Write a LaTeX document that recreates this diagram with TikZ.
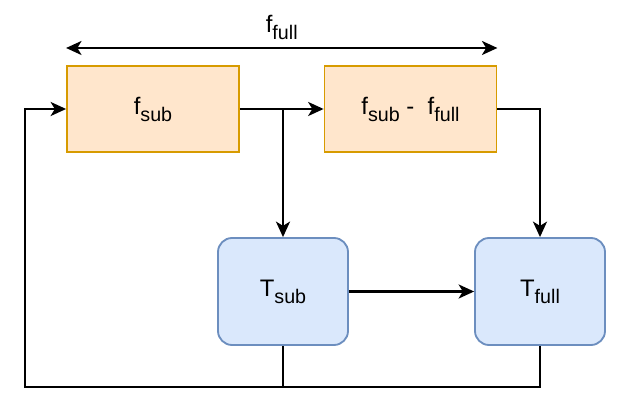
\documentclass[tikz,border=0pt]{standalone}
\usepackage{fontspec}
\setmainfont{Liberation Sans}
\usetikzlibrary{arrows.meta,positioning}

\definecolor{orfill}{HTML}{FFE6CC}
\definecolor{orline}{HTML}{D79B00}
\definecolor{blfill}{HTML}{DAE8FC}
\definecolor{blline}{HTML}{6C8EBF}

\newcommand{\sbs}[1]{\raisebox{-0.55ex}{\fontsize{14}{16}\selectfont #1}}

\begin{document}
\begin{tikzpicture}[
  >={Stealth[length=11pt,width=10pt,inset=3pt]},
  fblk/.style={draw=orline, fill=orfill, line width=1.3pt,
               minimum width=4.3cm, minimum height=2.15cm,
               align=center, font=\fontsize{17}{20}\selectfont, inner sep=0pt},
  tblk/.style={draw=blline, fill=blfill, line width=1.3pt, rounded corners=10pt,
               minimum width=3.25cm, minimum height=2.675cm,
               align=center, font=\fontsize{17}{20}\selectfont, inner sep=0pt},
  conn/.style={line width=1.6pt},
  lbl/.style={font=\fontsize{17}{20}\selectfont, inner sep=1pt},
]
  \useasboundingbox (0,0) rectangle (15.7,10.425);

  %% function blocks — top row
  \node[fblk] (fsub)  at (3.825, 7.7)  {f\sbs{sub}};
  \node[fblk] (fdiff) at (10.2625, 7.7) {f\sbs{sub} -~~f\sbs{full}};

  %% transfer blocks — bottom row
  \node[tblk] (tsub)  at (7.075, 3.1375) {T\sbs{sub}};
  \node[tblk] (tfull) at (13.5, 3.1375)  {T\sbs{full}};

  %% span over both blocks
  \coordinate (spanl) at (fsub.west |- 0,9.225);
  \coordinate (spanr) at (fdiff.east |- 0,9.225);
  \draw[conn, <->] (spanl) -- node[lbl, above=4pt] {f\sbs{full}} (spanr);

  %% forward path
  \coordinate (split) at (tsub.north |- fsub.east);
  \draw[conn, ->] (fsub.east) -- (fdiff.west);
  \draw[conn, ->] (split) -- (tsub.north);
  \draw[conn, ->] (fdiff.east) -| (tfull.north);
  \draw[conn, ->] (tsub.east) -- (tfull.west);

  %% feedback bus
  \coordinate (busl) at (0.625, 0.75);
  \draw[conn] (tsub.south) -- (tsub.south |- busl);
  \draw[conn, ->] (tfull.south) |- (busl) |- (fsub.west);
\end{tikzpicture}
\end{document}
